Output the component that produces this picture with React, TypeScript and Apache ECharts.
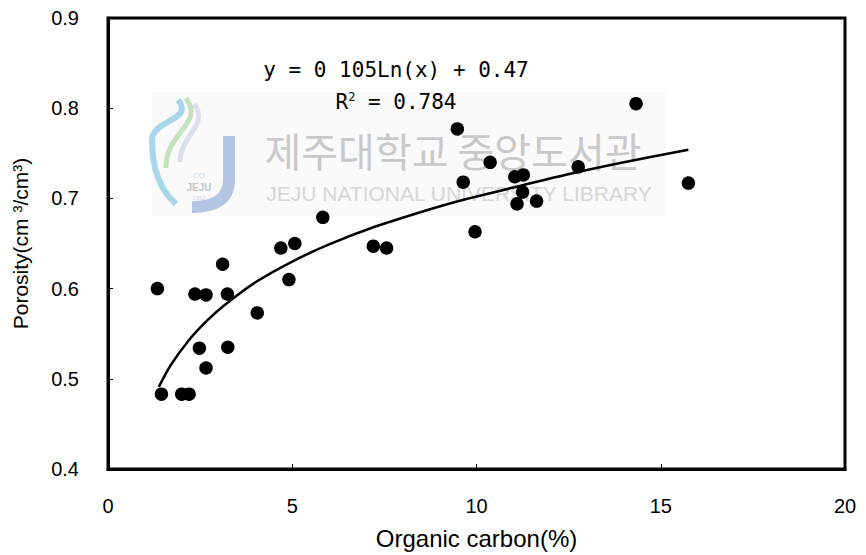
import React, { useEffect, useRef } from "react";
import * as echarts from "echarts";

// Observed samples: [organic carbon %, porosity cm3/cm3]
const samples: [number, number][] = [
  [1.34, 0.6], [1.45, 0.483], [2.0, 0.483], [2.2, 0.483],
  [2.36, 0.594], [2.66, 0.593], [2.48, 0.534], [2.66, 0.512],
  [3.11, 0.627], [3.24, 0.594], [3.25, 0.535], [4.05, 0.573],
  [4.69, 0.645], [5.07, 0.65], [4.91, 0.61], [5.83, 0.679],
  [7.2, 0.647], [7.56, 0.645], [9.48, 0.777], [9.64, 0.718],
  [10.37, 0.74], [9.96, 0.663], [14.33, 0.805], [15.75, 0.717],
  [12.76, 0.735], [11.04, 0.724], [11.27, 0.726], [11.25, 0.707],
  [11.1, 0.694], [11.63, 0.697],
];

// Logarithmic trend line
const trendLine: [number, number][] = [
  [1.38, 0.491], [1.7, 0.515], [2.2, 0.543], [2.7, 0.565],
  [3.2, 0.583], [4.0, 0.607], [5.0, 0.630], [6.0, 0.649],
  [7.2, 0.668], [8.5, 0.685], [9.7, 0.699], [11.0, 0.712],
  [12.4, 0.726], [14.0, 0.740], [15.75, 0.754],
];

const xTicks = [0, 5, 10, 15, 20];
const yTicks = [0.4, 0.5, 0.6, 0.7, 0.8, 0.9];
const equationText = "y = 0 105Ln(x) + 0.47";
const rSquaredValue = "0.784";
const xTitle = "Organic carbon(%)";
const yTitle = "Porosity(cm ³/cm³)";
const watermarkKo = "제주대학교 중앙도서관";
const watermarkEn = "JEJU NATIONAL UNIVERSITY LIBRARY";

const FONT = "'Liberation Sans', Arial, sans-serif";
const MONO = "'DejaVu Sans Mono', monospace";

export default function App() {
  const ref = useRef<HTMLDivElement>(null);
  useEffect(() => {
    if (!ref.current) return;
    const chart = echarts.init(ref.current, undefined, { renderer: "svg" });
    chart.setOption({
      animation: false,
      backgroundColor: "#ffffff",
      grid: {
        left: 108,
        right: 21,
        top: 18,
        bottom: 86,
        show: true,
        borderColor: "#000",
        borderWidth: 3,
        backgroundColor: "transparent",
      },
      xAxis: {
        type: "value",
        min: xTicks[0],
        max: xTicks[xTicks.length - 1],
        interval: 5,
        name: xTitle,
        nameLocation: "middle",
        nameGap: 57,
        nameTextStyle: { fontFamily: FONT, fontSize: 24, color: "#000" },
        axisLine: { show: true, lineStyle: { color: "#000", width: 3 } },
        axisTick: { show: true, inside: true, length: 5, lineStyle: { color: "#000", width: 1 } },
        axisLabel: { fontFamily: FONT, fontSize: 20, color: "#000", margin: 27 },
        splitLine: { show: false },
      },
      yAxis: {
        type: "value",
        min: yTicks[0],
        max: yTicks[yTicks.length - 1],
        interval: 0.1,
        name: yTitle,
        nameLocation: "middle",
        nameRotate: 90,
        nameGap: 77,
        nameTextStyle: { fontFamily: FONT, fontSize: 21, color: "#000" },
        axisLine: { show: true, lineStyle: { color: "#000", width: 3 } },
        axisTick: { show: true, inside: true, length: 5, lineStyle: { color: "#000", width: 1 } },
        axisLabel: {
          fontFamily: FONT,
          fontSize: 20,
          color: "#000",
          margin: 29,
          formatter: (v: number) => v.toFixed(1),
        },
        splitLine: { show: false },
      },
      graphic: [
        {
          type: "rect",
          z: -10,
          shape: { x: 152, y: 92, width: 515, height: 124 },
          style: { fill: "#fafafa" },
          silent: true,
        },
        // logo swooshes
        {
          type: "bezierCurve",
          z: -5,
          shape: { x1: 178, y1: 100, x2: 152, y2: 140, cpx1: 195, cpy1: 120, cpx2: 152, cpy2: 120 },
          style: { stroke: "#a9d6ea", lineWidth: 6, fill: "none" },
        },
        {
          type: "bezierCurve",
          z: -5,
          shape: { x1: 152, y1: 140, x2: 176, y2: 204, cpx1: 152, cpy1: 168, cpx2: 160, cpy2: 190 },
          style: { stroke: "#a9d6ea", lineWidth: 6, fill: "none" },
        },
        {
          type: "bezierCurve",
          z: -5,
          shape: { x1: 186, y1: 98, x2: 166, y2: 168, cpx1: 205, cpy1: 125, cpx2: 165, cpy2: 132 },
          style: { stroke: "#c4e2bd", lineWidth: 5, fill: "none" },
        },
        {
          type: "bezierCurve",
          z: -5,
          shape: { x1: 194, y1: 104, x2: 180, y2: 162, cpx1: 210, cpy1: 125, cpx2: 180, cpy2: 135 },
          style: { stroke: "#dbe0ec", lineWidth: 5, fill: "none" },
        },
        {
          type: "polyline",
          z: -5,
          shape: { points: [[229, 136], [229, 180]] },
          style: { stroke: "#b4c6e4", lineWidth: 12, fill: "none" },
        },
        {
          type: "bezierCurve",
          z: -5,
          shape: { x1: 229, y1: 180, x2: 192, y2: 207, cpx1: 229, cpy1: 201, cpx2: 212, cpy2: 207 },
          style: { stroke: "#b4c6e4", lineWidth: 12, fill: "none" },
        },
        {
          type: "text",
          z: -4,
          style: {
            x: 199, y: 187, text: "JEJU", fill: "#c2c6d0",
            font: `bold 10px ${FONT}`, align: "center", verticalAlign: "middle",
          },
        },
        {
          type: "text",
          z: -4,
          style: {
            x: 199, y: 175, text: "CO", fill: "#d0d3da",
            font: `8px ${FONT}`, align: "center", verticalAlign: "middle",
          },
        },
        {
          type: "text",
          z: -4,
          style: {
            x: 199, y: 198, text: "1952", fill: "#d0d3da",
            font: `6px ${FONT}`, align: "center", verticalAlign: "middle",
          },
        },
        {
          type: "text",
          z: -4,
          style: {
            x: 453, y: 150, text: watermarkKo, fill: "#c9c9c9",
            font: `40px 'Noto Sans CJK KR', sans-serif`, align: "center", verticalAlign: "middle",
          },
        },
        {
          type: "text",
          z: -4,
          style: {
            x: 459, y: 193, text: watermarkEn, fill: "#d6d6d6",
            font: `21px ${FONT}`, align: "center", verticalAlign: "middle",
          },
        },
        // trendline equation
        {
          type: "text",
          z: 20,
          style: {
            x: 396, y: 70, text: equationText, fill: "#000",
            font: `21px ${MONO}`, align: "center", verticalAlign: "middle",
          },
        },
        {
          type: "text",
          z: 20,
          style: {
            x: 396, y: 102,
            text: `{b|R}{s|2}{b| = ${rSquaredValue}}`,
            fill: "#000",
            align: "center",
            verticalAlign: "middle",
            rich: {
              b: { fontFamily: MONO, fontSize: 21, fill: "#000", color: "#000" },
              s: { fontFamily: MONO, fontSize: 12, fill: "#000", color: "#000", verticalAlign: "top", padding: [0, 0, 10, 0] },
            },
          },
        },
      ],
      series: [
        {
          type: "line",
          data: trendLine,
          smooth: 0.3,
          showSymbol: false,
          symbol: "none",
          lineStyle: { color: "#000", width: 2.5 },
          z: 3,
        },
        {
          type: "scatter",
          data: samples,
          symbol: "circle",
          symbolSize: 13.5,
          itemStyle: { color: "#000", opacity: 1 },
          z: 4,
        },
      ],
    });
    return () => chart.dispose();
  }, []);
  return (
    <div
      ref={ref}
      style={{ position: "absolute", left: 0, top: 0, width: 866, height: 555, background: "#fff" }}
    />
  );
}
